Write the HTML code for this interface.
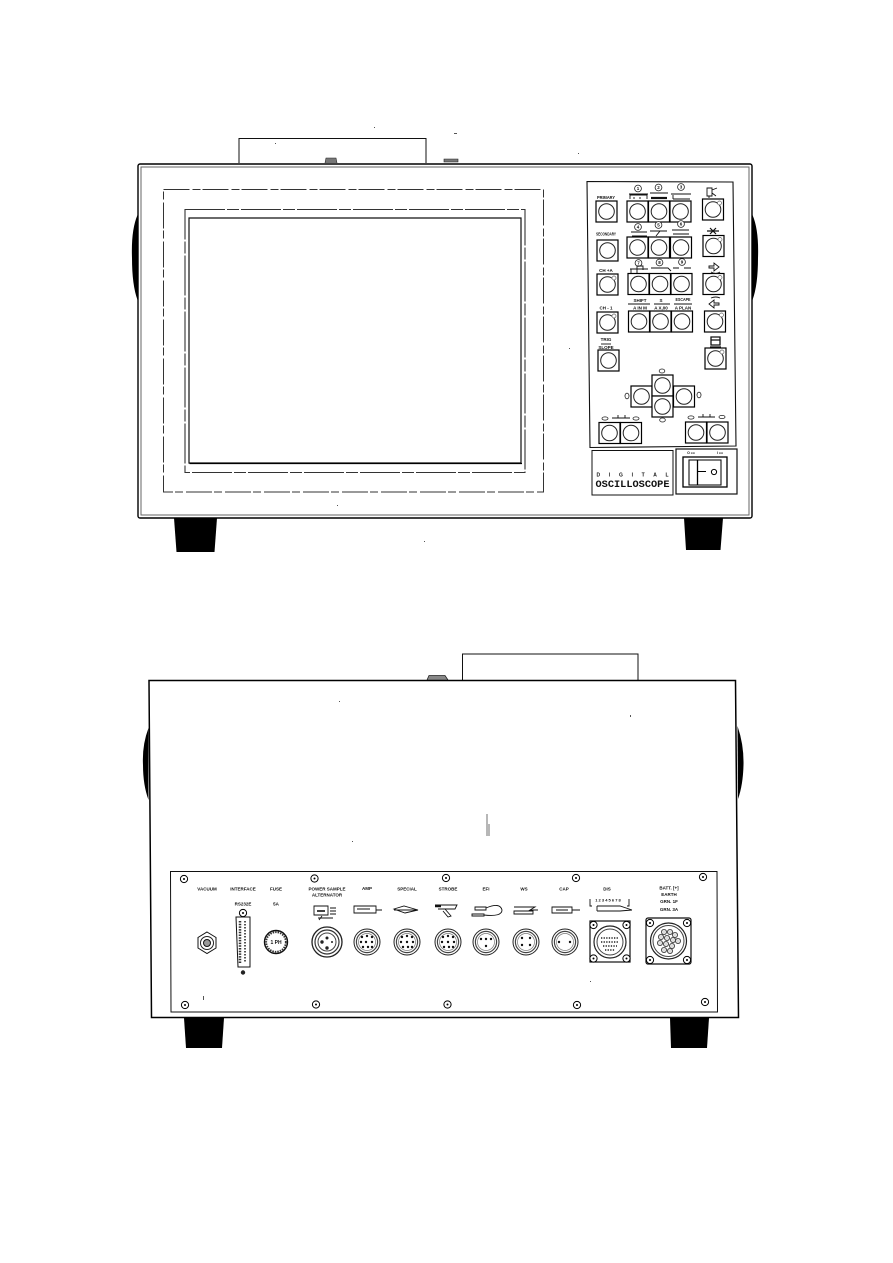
<!DOCTYPE html>
<html><head><meta charset="utf-8"><style>
html,body{margin:0;padding:0;background:#fff}
svg{display:block}
text{font-family:"Liberation Sans",sans-serif;font-weight:bold;text-anchor:middle;fill:#111}
</style></head><body>
<svg width="893" height="1263" viewBox="0 0 893 1263" xmlns="http://www.w3.org/2000/svg">
<defs>
<g id="b"><rect x="0" y="0" width="21" height="21" fill="#fff" stroke="#000" stroke-width="1.2"/><circle cx="10.5" cy="10.5" r="7.8" fill="#fff" stroke="#222" stroke-width="1"/></g>
<g id="bd"><use href="#b"/><circle cx="17" cy="4" r="2" fill="#fff" stroke="#666" stroke-width=".7"/></g>
<g id="s"><circle r="3.6" fill="#fff" stroke="#000" stroke-width="1"/><circle r="1" fill="#000"/></g>
<g id="k"><circle r="13" fill="#fff" stroke="#222" stroke-width="1"/><circle r="10.6" fill="none" stroke="#444" stroke-width="1.2"/><circle r="8.5" fill="none" stroke="#777" stroke-width=".7"/></g>
<circle id="p" r="1.2" fill="#111"/>
</defs>
<rect width="893" height="1263" fill="#fff"/>

<!-- FRONT VIEW -->
<path d="M239 163V138.500H426V163" fill="none" stroke="#111" stroke-width="1"/>
<path d="M325 163l1-5h10l1 5M444 159h14v3h-14z" fill="#777" stroke="#222" stroke-width=".6"/>
<path d="M137.500 215Q131 230 132 258Q132 285 137.500 300Z" fill="#000"/>
<path d="M752.500 215Q759 230 758 258Q758 285 752.500 300Z" fill="#000"/>
<path d="M174 518H217L214.500 552H176.500Z" fill="#000"/>
<path d="M684 518H723L720.500 550H686Z" fill="#000"/>
<rect x="138" y="164" width="614" height="354" rx="2" fill="#fff" stroke="#000" stroke-width="1.4"/>
<rect x="141" y="167" width="608" height="348" fill="none" stroke="#666" stroke-width="1"/>
<path d="M163.500 189.500H543.500V492H163.500Z" fill="none" stroke="#333" stroke-width="1" stroke-dasharray="26 3 8 2"/>
<rect x="185" y="209.500" width="340" height="263" fill="none" stroke="#333" stroke-width="1.1" stroke-dasharray="40 2 12 2"/>
<path d="M189 463V218H521V463Z" fill="none" stroke="#111" stroke-width="1.2"/>
<path d="M189.500 463.500H522" stroke="#000" stroke-width="1.3"/>

<!-- control panel -->
<path d="M587 181.500L733 182L736 446L590 447.500Z" fill="#fff" stroke="#111" stroke-width="1.1"/>
<use href="#b" x="596" y="201"/><use href="#b" x="597" y="240"/><use href="#bd" x="597" y="274"/><use href="#bd" x="597" y="312"/><use href="#b" x="598" y="350"/>
<use href="#b" x="627" y="201"/><use href="#b" x="648.500" y="201"/><use href="#b" x="670" y="201"/>
<use href="#b" x="627" y="237"/><use href="#b" x="648.500" y="237"/><use href="#b" x="670.500" y="237"/>
<use href="#b" x="628" y="273.500"/><use href="#b" x="649.500" y="273.500"/><use href="#b" x="671" y="273.500"/>
<use href="#b" x="628.500" y="311"/><use href="#b" x="650" y="311"/><use href="#b" x="671.500" y="311"/>
<use href="#bd" x="702.500" y="199"/><use href="#bd" x="703" y="235.500"/><use href="#bd" x="703" y="273.500"/><use href="#bd" x="704.500" y="311"/><use href="#bd" x="705" y="348"/>
<use href="#b" x="631" y="386"/><use href="#b" x="673.500" y="386"/><use href="#b" x="652" y="375"/><use href="#b" x="652" y="396"/>
<use href="#b" x="599" y="422.500"/><use href="#b" x="620.500" y="422.500"/><use href="#b" x="685.500" y="422"/><use href="#b" x="707" y="422"/>

<g fill="#fff" stroke="#222" stroke-width=".8">
<ellipse cx="662" cy="371" rx="2.800" ry="2"/><ellipse cx="627" cy="396" rx="2" ry="2.800"/><ellipse cx="699" cy="395" rx="2" ry="2.800"/><ellipse cx="662.500" cy="420" rx="2.800" ry="2"/>
<ellipse cx="605" cy="418.500" rx="3" ry="1.600"/><ellipse cx="636" cy="418.500" rx="3" ry="1.600"/><ellipse cx="691" cy="417.500" rx="3" ry="1.600"/><ellipse cx="722" cy="417" rx="3" ry="1.600"/>
<circle cx="638" cy="188.500" r="3.400"/><circle cx="658.500" cy="187.500" r="3.400"/><circle cx="681" cy="187" r="3.400"/>
<circle cx="638" cy="227" r="3.400"/><circle cx="658.500" cy="225" r="3.400"/><circle cx="681" cy="224" r="3.400"/>
<circle cx="638.500" cy="263" r="3.400"/><circle cx="659.500" cy="262.500" r="3.400"/><circle cx="682" cy="262" r="3.400"/>
</g>
<g font-size="4.500" style="font-size:4.500px">
<text x="638" y="190.200">1</text><text x="658.500" y="189.200">2</text><text x="681" y="188.700">3</text>
<text x="638" y="228.700">4</text><text x="658.500" y="226.700">5</text><text x="681" y="225.700">6</text>
<text x="638.500" y="264.700">7</text><text x="659.500" y="264.200">8</text><text x="682" y="263.700">9</text>
<text x="606" y="199" textLength="18" lengthAdjust="spacingAndGlyphs">PRIMARY</text>
<text x="606" y="235.500" textLength="20" lengthAdjust="spacingAndGlyphs">SECONDARY</text>
<text x="606" y="272">CH +A</text>
<text x="606" y="309.500">CH - 1</text>
<text x="606" y="341">TRIG</text>
<text x="606" y="349">SLOPE</text>
<text x="640" y="302">SHIFT</text><text x="661" y="302">S</text><text x="683" y="301" textLength="15" lengthAdjust="spacingAndGlyphs">ESCAPE</text>
<text x="640" y="309.500">A  IN M</text><text x="661" y="309.500">A  X,00</text><text x="683" y="309.500">A  PLAN</text>
</g>
<g stroke="#111" stroke-width=".9" fill="none">
<path d="M629 194H648M630 199V195H647V199M634 197V199M640 197V199"/>
<path d="M650 193H668"/><path d="M651 198H667" stroke-width="2.200"/>
<path d="M671 194H691M673 199V195M673 199H690"/>
<path d="M631 232H647M632 236H647" /><path d="M650 231H667M656 236L660 231"/><path d="M672 230H689M673 234H689"/>
<path d="M630 269H648M631 273V269M637 273V266H643V270"/><path d="M651 268H668L671 271"/><path d="M673 268H679M684 268H691"/>
<path d="M628 304H650M654 304H670M674 304H692"/>
<path d="M611 344H601"/>
<path d="M612 418H630M618 415V418M625 415V418"/><path d="M698 417H715M703 414V417M710 414V417"/>
<!-- right icons -->
<path d="M707 188H712V196H707ZM712 190L717 188M712 193L716 196M709 196V198"/>
<path d="M707 231H719M710 228L716 234M716 228L710 234" stroke-width="1.200"/>
<path d="M709 266H714V263L719 267L714 271V268H709ZM711 272Q716 275 720 272"/>
<path d="M719 303H714V300L709 304L714 308V305H719ZM711 298Q716 296 720 298"/>
<path d="M711 337H720V345H711ZM711 340H720M710 347H721" stroke-width="1.300"/>
</g>

<!-- logo & switch -->
<rect x="592" y="450.500" width="81" height="44.500" fill="#fff" stroke="#111" stroke-width="1"/>
<text x="632.500" y="476.500" style="font-size:5px" textLength="72">D I G I T A L</text>
<text x="632.500" y="487" style="font-size:10.500px;font-family:'Liberation Mono',monospace" textLength="74" lengthAdjust="spacingAndGlyphs">OSCILLOSCOPE</text>
<rect x="676" y="449" width="61" height="45" fill="#fff" stroke="#111" stroke-width="1.200"/>
<rect x="683" y="457" width="44" height="30" fill="#fff" stroke="#000" stroke-width="1.300"/>
<rect x="689" y="460" width="32" height="25" fill="#fff" stroke="#111" stroke-width="1.100"/>
<path d="M697.500 460V485" stroke="#000" stroke-width="1.300"/>
<path d="M698 471.500H706" stroke="#000" stroke-width="1"/>
<circle cx="714" cy="472" r="2.600" fill="#fff" stroke="#000" stroke-width="1"/>
<text x="691" y="454" style="font-size:3.500px">O  ==</text><text x="720" y="454" style="font-size:3.500px">I  ==</text>

<!-- BACK VIEW -->
<path d="M462.500 680V654H638V680" fill="none" stroke="#111" stroke-width="1"/>
<path d="M427 680l2-4.500h16l3 4.500" fill="#888" stroke="#222" stroke-width=".8"/>
<path d="M148.500 728Q142 745 143 765Q143 785 148.500 800Z" fill="#000"/>
<path d="M737.500 726Q744 745 743.500 765Q743 785 738 799Z" fill="#000"/>
<path d="M184 1018H224L222 1048H186Z" fill="#000"/>
<path d="M670 1018H709L707 1048H671Z" fill="#000"/>
<path d="M149 680.500H735.500L738.500 1017.500H151.500Z" fill="#fff" stroke="#000" stroke-width="1.500"/>
<path d="M487 814V836M489 824V836" stroke="#333" stroke-width=".7"/>
<path d="M170.500 871.500H717L717.500 1012H171Z" fill="#fff" stroke="#111" stroke-width="1"/>

<use href="#s" x="184" y="879"/><use href="#s" x="314.500" y="878.500"/><use href="#s" x="446" y="878"/><use href="#s" x="576" y="878"/><use href="#s" x="703" y="877"/>
<use href="#s" x="185" y="1005"/><use href="#s" x="316" y="1004.500"/><use href="#s" x="447.500" y="1004.500"/><use href="#s" x="577" y="1005"/><use href="#s" x="705" y="1002"/>

<g style="font-size:4.500px">
<text x="207" y="890.500">VACUUM</text><text x="243" y="890.500">INTERFACE</text><text x="276" y="890.500">FUSE</text>
<text x="327" y="890.500">POWER SAMPLE</text><text x="327" y="896.500">ALTERNATOR</text>
<text x="243" y="905.500">RS232E</text><text x="276" y="905.500">5A</text>
<text x="367" y="890">AMP</text><text x="407" y="890.500">SPECIAL</text><text x="448" y="890.500">STROBE</text>
<text x="486" y="890.500">EFI</text><text x="524" y="890.500">WS</text><text x="564" y="890.500">CAP</text><text x="607" y="890.500">DIS</text>
<text x="669" y="889.500">BATT. [+]</text><text x="669" y="896">EARTH</text><text x="669" y="903">GRN. 1F</text><text x="669" y="911">GRN. 3A</text>
<text x="608" y="901.500" style="font-size:4px">1 2 3 4 5 6 7 8</text>
</g>

<!-- vacuum -->
<path d="M207 932L216 937.500V948L207 953.500L198 948V937.500Z" fill="#fff" stroke="#111" stroke-width="1"/>
<circle cx="207" cy="943" r="6.500" fill="#fff" stroke="#222" stroke-width="1"/><circle cx="207" cy="943" r="3.500" fill="#999" stroke="#111" stroke-width="1"/>
<!-- interface -->
<use href="#s" x="243" y="913"/><circle cx="243" cy="972.500" r="2.200" fill="#222"/>
<path d="M236 917H250V967H238Z" fill="#fff" stroke="#111" stroke-width="1"/>
<path d="M240 921V963" stroke="#333" stroke-width="2.500" stroke-dasharray="1.500 1.200"/><path d="M245 921V963" stroke="#555" stroke-width="2" stroke-dasharray="1.500 1.500"/>
<!-- fuse -->
<circle cx="276" cy="942" r="11.500" fill="#fff" stroke="#111" stroke-width="1.400"/><circle cx="276" cy="942" r="9.800" fill="none" stroke="#333" stroke-width="1.800" stroke-dasharray="1.500 1"/>
<text x="276" y="944" style="font-size:5px">1 PH</text>
<!-- power -->
<circle cx="327" cy="942" r="15" fill="#fff" stroke="#222" stroke-width="1.300"/><circle cx="327" cy="942" r="12" fill="none" stroke="#333" stroke-width="1.200"/><circle cx="327" cy="942" r="9" fill="none" stroke="#444" stroke-width="1"/>
<circle cx="322" cy="942" r="1.700" fill="#222"/><circle cx="327" cy="938" r="1.500" fill="#222"/><circle cx="327" cy="948" r="1.700" fill="#222"/><circle cx="332" cy="942" r="1" fill="#222"/>
<!-- round connectors -->
<use href="#k" x="367" y="942"/><use href="#k" x="407" y="942"/><use href="#k" x="448" y="942"/><use href="#k" x="486" y="942"/><use href="#k" x="526" y="942"/><use href="#k" x="565" y="942"/>
<g>
<use href="#p" x="362" y="937"/><use href="#p" x="367" y="936"/><use href="#p" x="372" y="937"/><use href="#p" x="361" y="942"/><use href="#p" x="366" y="942"/><use href="#p" x="372" y="942"/><use href="#p" x="363" y="947"/><use href="#p" x="368" y="947"/><use href="#p" x="372" y="947"/>
<use href="#p" x="402" y="937"/><use href="#p" x="407" y="936"/><use href="#p" x="412" y="937"/><use href="#p" x="401" y="942"/><use href="#p" x="407" y="942"/><use href="#p" x="413" y="942"/><use href="#p" x="403" y="947"/><use href="#p" x="408" y="947"/><use href="#p" x="412" y="947"/>
<use href="#p" x="443" y="937"/><use href="#p" x="448" y="936"/><use href="#p" x="453" y="937"/><use href="#p" x="442" y="942"/><use href="#p" x="448" y="942"/><use href="#p" x="454" y="942"/><use href="#p" x="444" y="947"/><use href="#p" x="449" y="947"/><use href="#p" x="453" y="947"/>
<use href="#p" x="481" y="939"/><use href="#p" x="491" y="939"/><use href="#p" x="486" y="946"/><use href="#p" x="486" y="939"/>
<use href="#p" x="522" y="938"/><use href="#p" x="530" y="938"/><use href="#p" x="522" y="945"/><use href="#p" x="530" y="945"/>
<use href="#p" x="559" y="942"/><use href="#p" x="570" y="942"/>
</g>
<!-- DIS -->
<rect x="590" y="921" width="40" height="41" fill="#fff" stroke="#111" stroke-width="1.200"/>
<circle cx="610" cy="942" r="16" fill="#fff" stroke="#222" stroke-width="1.200"/><circle cx="610" cy="942" r="13" fill="none" stroke="#444" stroke-width="1"/>
<path d="M601 938H619M601 942H619M603 946H617M605 950H615" stroke="#222" stroke-width="1.600" stroke-dasharray="1.300 1.300"/>
<use href="#s" x="593.500" y="925"/><use href="#s" x="626.500" y="925"/><use href="#s" x="593.500" y="958.500"/><use href="#s" x="626.500" y="958.500"/>
<!-- BATT -->
<rect x="646" y="918" width="45" height="46" rx="2" fill="#fff" stroke="#111" stroke-width="1.200"/>
<circle cx="668.500" cy="941" r="18" fill="#fff" stroke="#222" stroke-width="1.200"/><circle cx="668.500" cy="941" r="15.500" fill="none" stroke="#444" stroke-width="1"/>
<g fill="#ddd" stroke="#333" stroke-width=".8">
<circle cx="664" cy="932" r="2.600"/><circle cx="670" cy="932" r="2.600"/><circle cx="675" cy="935" r="2.600"/><circle cx="661" cy="937" r="2.600"/><circle cx="667" cy="938" r="2.600"/><circle cx="673" cy="940" r="2.600"/><circle cx="678" cy="941" r="2.600"/><circle cx="660" cy="943" r="2.600"/><circle cx="666" cy="944" r="2.600"/><circle cx="672" cy="946" r="2.600"/><circle cx="664" cy="950" r="2.600"/><circle cx="670" cy="951" r="2.600"/>
</g>
<use href="#s" x="650" y="923"/><use href="#s" x="687" y="923"/><use href="#s" x="650" y="960"/><use href="#s" x="687" y="960"/>

<!-- connector pictograms -->
<g fill="none" stroke="#111" stroke-width=".9">
<path d="M314 906H328V915H314ZM330 908H336M330 911H336M330 914H336M318 918H333M322 916L319 920"/><path d="M317 911H325" stroke-width="1.600"/>
<path d="M354 906H376V913H354ZM376 910H382M357 909H370"/>
<path d="M394 909L404 906L418 910L405 913ZM394 910H418" />
<path d="M435 905H457L455 909H441L438 909M445 909L451 916L448 917L443 911"/><path d="M435 906H441" stroke-width="2.500"/>
<path d="M475 907H486V910H475ZM472 914H484V916H472ZM486 908Q500 902 502 910Q502 917 484 915"/>
<path d="M514 907H535L530 910H538M514 911H533V914H514Z"/>
<path d="M552 907H572V913H552ZM572 910H580M556 910H568"/>
<path d="M590 899V906H592M629 899V906H627"/><path d="M597 906H620L632 910M597 911H620L632 910M597 906V911"/>
</g>

<!-- speckles -->
<g fill="#555">
<rect x="374" y="127" width="1" height="1"/><rect x="454" y="133" width="3" height="1"/><rect x="275" y="143" width="1" height="1"/><rect x="424" y="541" width="1" height="1"/><rect x="337" y="505" width="1" height="1"/><rect x="569" y="348" width="1" height="1"/><rect x="578" y="153" width="1" height="1"/><rect x="339" y="701" width="1" height="1"/><rect x="352" y="841" width="1" height="1"/><rect x="630" y="715" width="1" height="2"/><rect x="203" y="996" width="1" height="4"/><rect x="590" y="981" width="1" height="1"/>
</g>
</svg>
</body></html>
